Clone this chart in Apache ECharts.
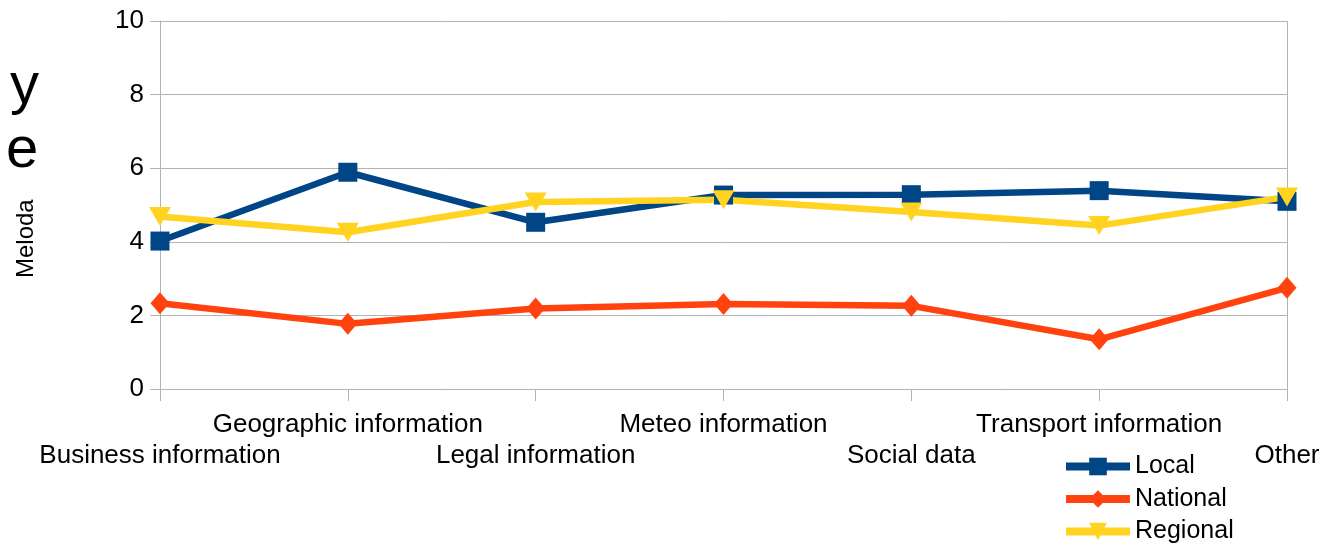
<!DOCTYPE html>
<html>
<head>
<meta charset="utf-8">
<script src="https://cdn.jsdelivr.net/npm/echarts@6/dist/echarts.min.js"></script>
<style>
  html, body { margin: 0; padding: 0; background: #fff; }
  #chart { width: 1338px; height: 545px; }
</style>
</head>
<body>
<div id="chart"></div>
<script>
// categories and values
const categories = [
  "Business information",
  "Geographic information",
  "Legal information",
  "Meteo information",
  "Social data",
  "Transport information",
  "Other",
];
const seriesNames = ["Local", "National", "Regional"];
const localValues = [4.02, 5.89, 4.53, 5.27, 5.28, 5.39, 5.1];
const nationalValues = [2.33, 1.77, 2.19, 2.31, 2.26, 1.35, 2.75];
const regionalValues = [4.69, 4.26, 5.08, 5.14, 4.81, 4.44, 5.22];
const yTicks = { min: 0, max: 10, interval: 2 };

const grey = "#b3b3b3";
const font = "'Liberation Sans', Arial, sans-serif";

const chart = echarts.init(document.getElementById("chart"));

// one legend per item, stacked, so nothing wraps at the bottom edge
const legends = seriesNames.map((name, i) => ({
  orient: "vertical",
  left: 1062,
  top: 454 + i * 32.5,
  padding: 0,
  itemWidth: 64,
  itemHeight: 22,
  itemGap: 6,
  lineStyle: { width: 8 },
  textStyle: { fontSize: 25, color: "#000", fontFamily: font },
  data: [name],
}));

const option = {
  animation: false,
  textStyle: { fontFamily: font, color: "#000" },
  grid: { left: 160, right: 51, top: 21, bottom: 156 },
  // the y-title as it shows up in the picture
  graphic: [
    { type: "text", left: 10, top: 58, style: { text: "y", font: "58px " + font, fill: "#000" } },
    { type: "text", left: 6, top: 122, style: { text: "e", font: "58px " + font, fill: "#000" } },
    {
      type: "text", x: 38, y: 278, rotation: Math.PI / 2,
      style: { text: "Meloda", font: "24px " + font, fill: "#000", textVerticalAlign: "bottom" },
    },
  ],
  legend: legends,
  xAxis: {
    type: "category",
    data: categories,
    boundaryGap: false,
    axisLine: { lineStyle: { color: grey, width: 1 } },
    axisTick: { show: true, length: 12, lineStyle: { color: grey } },
    axisLabel: {
      interval: 0,
      hideOverlap: false,
      fontSize: 26,
      lineHeight: 31,
      margin: 20,
      color: "#000",
      formatter: (val, idx) => (idx % 2 === 0 ? "\n" + val : val),
    },
    splitLine: {
      show: true,
      interval: (idx) => idx === categories.length - 1,
      lineStyle: { color: grey },
    },
  },
  yAxis: {
    type: "value",
    min: yTicks.min,
    max: yTicks.max,
    interval: yTicks.interval,
    axisLine: { show: true, lineStyle: { color: grey } },
    axisTick: { show: true, length: 10, lineStyle: { color: grey } },
    axisLabel: { fontSize: 26, color: "#000", margin: 16 },
    splitLine: { lineStyle: { color: grey } },
  },
  series: [
    {
      name: "Local",
      type: "line",
      data: localValues,
      symbol: "rect",
      symbolSize: 19,
      color: "#004586",
      lineStyle: { width: 6.5 },
    },
    {
      name: "National",
      type: "line",
      data: nationalValues,
      symbol: "diamond",
      symbolSize: [19, 22],
      color: "#ff420e",
      lineStyle: { width: 6.5 },
    },
    {
      name: "Regional",
      type: "line",
      data: regionalValues,
      symbol: "triangle",
      symbolRotate: 180,
      symbolSize: [22, 19],
      color: "#ffd320",
      lineStyle: { width: 6.5 },
    },
  ],
};

chart.setOption(option);
</script>
</body>
</html>
